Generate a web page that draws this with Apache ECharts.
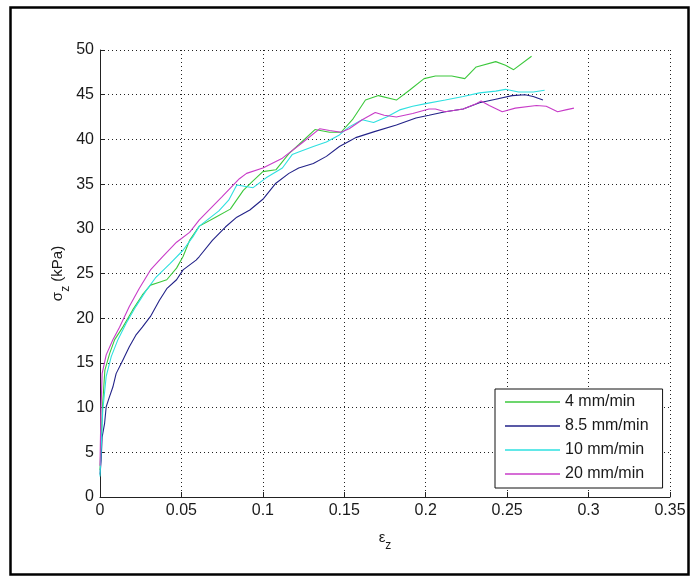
<!DOCTYPE html>
<html>
<head>
<meta charset="utf-8">
<script src="https://cdn.jsdelivr.net/npm/echarts@6/dist/echarts.min.js"></script>
<style>
  html, body { margin: 0; padding: 0; background: #fff; }
  #chart { width: 694px; height: 576px; }
</style>
</head>
<body>
<div id="chart"></div>
<script>
// tick values
var xTicks = [0, 0.05, 0.1, 0.15, 0.2, 0.25, 0.3, 0.35];
var yTicks = [0, 5, 10, 15, 20, 25, 30, 35, 40, 45, 50];

var seriesNames = ['4 mm/min', '8.5 mm/min', '10 mm/min', '20 mm/min'];

// strain, stress (kPa)
var rate4 = [[0,3],[0.0015,10],[0.003,14.2],[0.006,16.1],[0.009,17.6],[0.014,19.0],[0.020,20.9],[0.026,22.6],[0.031,23.7],[0.036,24.0],[0.041,24.3],[0.047,25.6],[0.051,26.9],[0.055,28.7],[0.061,30.3],[0.071,31.3],[0.080,32.2],[0.088,34.3],[0.093,35.2],[0.100,36.4],[0.108,36.6],[0.116,38.4],[0.122,39.4],[0.132,41.1],[0.141,40.8],[0.148,40.8],[0.155,42.2],[0.163,44.4],[0.171,44.9],[0.182,44.4],[0.190,45.5],[0.199,46.8],[0.206,47.1],[0.216,47.1],[0.224,46.8],[0.231,48.1],[0.243,48.7],[0.249,48.3],[0.254,47.8],[0.265,49.3]];

var rate8_5 = [[0,2.5],[0.0007,4.1],[0.0013,6.7],[0.0028,8.2],[0.0038,10.1],[0.0058,11.2],[0.0079,12.3],[0.0099,13.8],[0.014,15.3],[0.018,16.8],[0.022,18.1],[0.026,19.0],[0.031,20.2],[0.0365,22.0],[0.041,23.3],[0.047,24.3],[0.051,25.4],[0.059,26.5],[0.061,26.9],[0.069,28.7],[0.077,30.2],[0.084,31.3],[0.092,32.1],[0.100,33.3],[0.108,35.1],[0.116,36.2],[0.122,36.8],[0.131,37.3],[0.139,38.1],[0.147,39.2],[0.153,39.8],[0.157,40.2],[0.169,40.9],[0.182,41.6],[0.194,42.4],[0.202,42.7],[0.212,43.1],[0.223,43.4],[0.233,44.1],[0.243,44.5],[0.253,44.9],[0.261,45.0],[0.266,44.8],[0.272,44.4]];

var rate10 = [[0,2.3],[0.0017,9.7],[0.0038,13.5],[0.0069,15.7],[0.011,17.6],[0.016,19.4],[0.022,21.3],[0.028,23.0],[0.034,24.5],[0.043,26.1],[0.051,27.6],[0.057,29.1],[0.061,30.3],[0.073,32.0],[0.079,33.2],[0.084,34.9],[0.094,34.6],[0.102,35.7],[0.112,36.8],[0.118,38.3],[0.122,38.6],[0.131,39.2],[0.139,39.7],[0.147,40.5],[0.153,41.4],[0.161,42.2],[0.168,41.9],[0.176,42.5],[0.184,43.3],[0.192,43.7],[0.200,44.0],[0.212,44.4],[0.223,44.8],[0.233,45.2],[0.243,45.4],[0.249,45.6],[0.257,45.3],[0.266,45.3],[0.273,45.5]];

var rate20 = [[0,3.5],[0.0005,9],[0.0013,13.8],[0.0038,15.9],[0.0079,17.6],[0.012,19.0],[0.018,21.3],[0.024,23.3],[0.031,25.4],[0.0385,26.9],[0.047,28.5],[0.055,29.6],[0.061,31.0],[0.075,33.6],[0.0856,35.6],[0.090,36.2],[0.100,36.8],[0.112,37.9],[0.124,39.6],[0.135,41.2],[0.141,41.0],[0.148,40.8],[0.153,41.2],[0.161,42.2],[0.169,43.0],[0.1745,42.7],[0.182,42.5],[0.192,42.9],[0.202,43.4],[0.206,43.4],[0.212,43.1],[0.223,43.4],[0.231,44.0],[0.234,44.3],[0.239,43.8],[0.247,43.1],[0.255,43.5],[0.268,43.8],[0.274,43.7],[0.281,43.1],[0.286,43.3],[0.291,43.5]];

var colors = ['#3cc83c', '#222288', '#2ee0e0', '#c83cc8'];
var allData = [rate4, rate8_5, rate10, rate20];

var font = '"Liberation Sans", Arial, sans-serif';
var textColor = '#1a1a1a';

var myChart = echarts.init(document.getElementById('chart'));

var series = seriesNames.map(function (name, i) {
    return {
        name: name,
        type: 'line',
        data: allData[i],
        symbol: 'none',
        smooth: false,
        lineStyle: { width: 1.1, color: colors[i] },
        itemStyle: { color: colors[i] },
        z: 3 + i
    };
});

myChart.setOption({
    animation: false,
    backgroundColor: '#fff',
    textStyle: { fontFamily: font },
    grid: { left: 100, right: 24, top: 50, bottom: 79, containLabel: false },
    xAxis: {
        type: 'value',
        min: xTicks[0],
        max: xTicks[xTicks.length - 1],
        interval: 0.05,
        name: '{e|ε}{s|z}',
        nameLocation: 'middle',
        nameGap: 33,
        nameMoveOverlap: false,
        nameTextStyle: {
            rich: {
                e: { fontSize: 15, color: textColor, fontFamily: font, lineHeight: 22, verticalAlign: 'top' },
                s: { fontSize: 12, color: textColor, fontFamily: font, lineHeight: 12, verticalAlign: 'bottom' }
            }
        },
        axisLine: { show: true, onZero: false, lineStyle: { color: '#222', width: 1 } },
        axisTick: { show: true, inside: true, length: 5, lineStyle: { color: '#222' } },
        axisLabel: {
            margin: 6,
            fontSize: 16,
            color: textColor,
            fontFamily: font,
            formatter: function (v) { return String(Math.round(v * 100) / 100); }
        },
        splitLine: { show: true, lineStyle: { color: '#222', width: 1, type: [1, 3] } }
    },
    yAxis: {
        type: 'value',
        min: yTicks[0],
        max: yTicks[yTicks.length - 1],
        interval: 5,
        name: '{g|σ}{s|z}{g| (kPa)}',
        nameLocation: 'middle',
        nameGap: 28,
        nameMoveOverlap: false,
        nameRotate: 90,
        nameTextStyle: {
            rich: {
                g: { fontSize: 15, color: textColor, fontFamily: font, lineHeight: 22, verticalAlign: 'top' },
                s: { fontSize: 12, color: textColor, fontFamily: font, lineHeight: 12, verticalAlign: 'bottom' }
            }
        },
        axisLine: { show: true, onZero: false, lineStyle: { color: '#222', width: 1 } },
        axisTick: { show: true, inside: true, length: 5, lineStyle: { color: '#222' } },
        axisLabel: { margin: 6, fontSize: 16, color: textColor, fontFamily: font },
        splitLine: { show: true, lineStyle: { color: '#222', width: 1, type: [1, 3] } }
    },
    legend: {
        orient: 'vertical',
        left: 495,
        top: 389,
        padding: [4, 14, 5, 10],
        icon: 'rect',
        itemWidth: 55,
        itemHeight: 1.4,
        itemGap: 6,
        itemTextGap: 3,
        borderColor: '#111',
        borderWidth: 1,
        borderRadius: 0,
        backgroundColor: '#fff',
        textStyle: { fontSize: 16, color: textColor, fontFamily: font, lineHeight: 18 },
        data: seriesNames
    },
    graphic: [{
        type: 'rect',
        left: 8,
        top: 5,
        shape: { width: 678, height: 567 },
        style: { fill: 'none', stroke: '#000', lineWidth: 2.5 },
        silent: true,
        z: 100
    }],
    series: series
});
</script>
</body>
</html>
